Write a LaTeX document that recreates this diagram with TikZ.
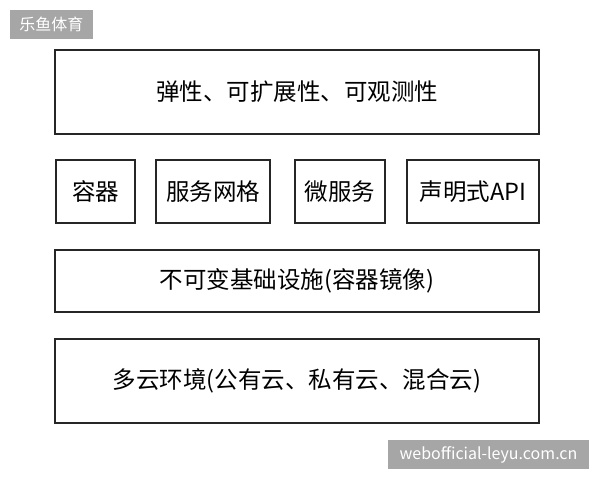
\documentclass[tikz,border=0pt]{standalone}
\usepackage{fontspec}
\setmainfont{Noto Sans CJK SC}
\newfontfamily\wmfont{Noto Sans CJK SC}
\begin{document}
\begin{tikzpicture}[x=1pt,y=-1pt,
  layer/.style={draw=black!85,line width=1.3pt,inner sep=0pt,font=\fontsize{23.5}{27}\selectfont},
  wm/.style={fill=black!35,text=white,inner sep=0pt,font=\wmfont\fontsize{16}{19}\selectfont}]
\useasboundingbox (0,0) rectangle (600,480);
\node[layer,minimum width=484pt,minimum height=84pt] (top) at (297,92) {弹性、可扩展性、可观测性};
\node[layer,minimum width=79pt,minimum height=63pt] (c1) at (95.5,191.5) {容器};
\node[layer,minimum width=114pt,minimum height=63pt] (c2) at (213,191.5) {服务网格};
\node[layer,minimum width=90pt,minimum height=63pt] (c3) at (340,191.5) {微服务};
\node[layer,minimum width=132pt,minimum height=63pt] (c4) at (473,191.5) {声明式API};
\node[layer,minimum width=484pt,minimum height=62pt] (imm) at (297,281) {不可变基础设施(容器镜像)};
\node[layer,minimum width=484pt,minimum height=84pt] (cloud) at (297,381) {多云环境(公有云、私有云、混合云)};
\node[wm,minimum width=83pt,minimum height=29pt] (w1) at (51.5,24.5) {乐鱼体育};
\node[wm,minimum width=201pt,minimum height=29pt] (w2) at (488.5,454.5) {webofficial-leyu.com.cn};
\end{tikzpicture}
\end{document}
